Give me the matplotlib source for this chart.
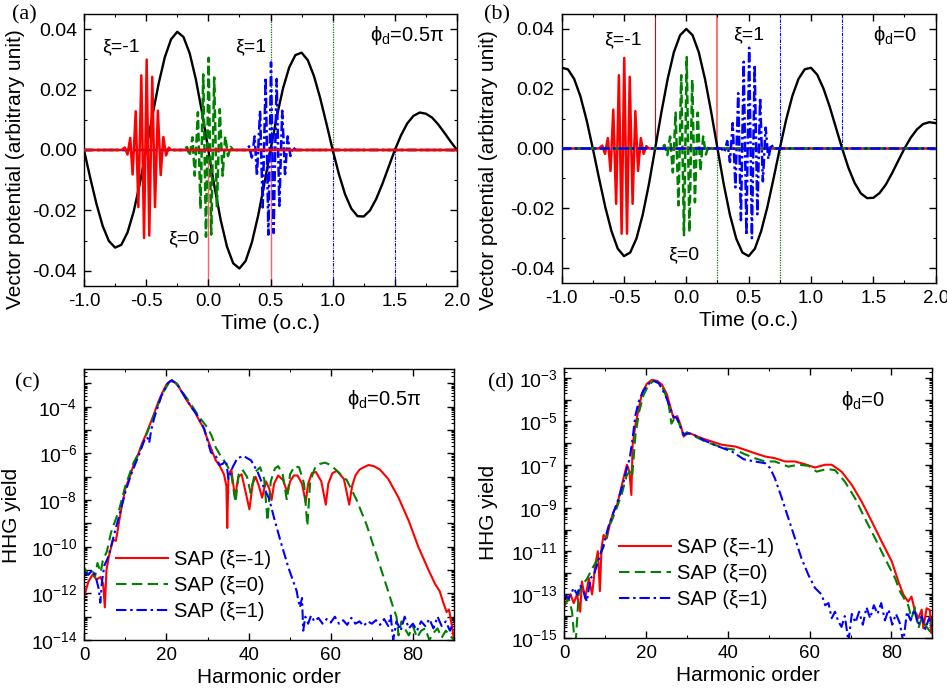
import numpy as np
import matplotlib
matplotlib.use('Agg')
import matplotlib.pyplot as plt
from matplotlib.ticker import (MultipleLocator, FixedLocator, FuncFormatter,
                               LogLocator, NullFormatter)

plt.rcParams['font.family'] = ['Liberation Sans', 'DejaVu Sans']
plt.rcParams['mathtext.fontset'] = 'custom'
plt.rcParams['mathtext.rm'] = 'Liberation Sans'
plt.rcParams['mathtext.it'] = 'Liberation Sans'
plt.rcParams['mathtext.sf'] = 'Liberation Sans'
plt.rcParams['axes.unicode_minus'] = False

# ---------------- data: panel (a)/(b) vector potentials ----------------
t_grid = [-1.00, -0.95, -0.90, -0.85, -0.80, -0.75, -0.70, -0.65, -0.60, -0.55,
          -0.50, -0.45, -0.40, -0.35, -0.30, -0.25, -0.20, -0.15, -0.10, -0.05,
          0.00, 0.05, 0.10, 0.15, 0.20, 0.25, 0.30, 0.35, 0.40, 0.45,
          0.50, 0.55, 0.60, 0.65, 0.70, 0.75, 0.80, 0.85, 0.90, 0.95,
          1.00, 1.05, 1.10, 1.15, 1.20, 1.25, 1.30, 1.35, 1.40, 1.45,
          1.50, 1.55, 1.60, 1.65, 1.70, 1.75, 1.80, 1.85, 1.90, 1.95, 2.00]
a_drive_a = [0.0, -0.0092, -0.0178, -0.0251, -0.0301, -0.0323, -0.0314, -0.0273, -0.0203, -0.0109,
             0.0, 0.0113, 0.0219, 0.0307, 0.0366, 0.0391, 0.0374, 0.0320, 0.0233, 0.0123,
             0.0, -0.0123, -0.0233, -0.0320, -0.0375, -0.0392, -0.0367, -0.0306, -0.0218, -0.0113,
             0.0, 0.0109, 0.0203, 0.0273, 0.0314, 0.0322, 0.0297, 0.0244, 0.0171, 0.0087,
             0.0, -0.0080, -0.0147, -0.0194, -0.0219, -0.0220, -0.0200, -0.0162, -0.0112, -0.0056,
             0.0, 0.0049, 0.0088, 0.0113, 0.0124, 0.0120, 0.0107, 0.0084, 0.0056, 0.0027, 0.0]
a_drive_b = [0.0270, 0.0265, 0.0233, 0.0175, 0.0095, 0.0, -0.0100, -0.0196, -0.0277, -0.0335,
             -0.0360, -0.0348, -0.0301, -0.0222, -0.0119, 0.0, 0.0121, 0.0232, 0.0322, 0.0379,
             0.0400, 0.0379, 0.0322, 0.0232, 0.0121, 0.0, -0.0119, -0.0222, -0.0301, -0.0348,
             -0.0360, -0.0335, -0.0277, -0.0196, -0.0100, 0.0, 0.0095, 0.0175, 0.0233, 0.0265,
             0.0270, 0.0247, 0.0201, 0.0140, 0.0070, 0.0, -0.0064, -0.0115, -0.0150, -0.0166,
             -0.0165, -0.0149, -0.0121, -0.0083, -0.0041, 0.0, 0.0036, 0.0064, 0.0082, 0.0088, 0.0085]

# attosecond pulses (peak positions / values)
t_sap_red_a = [-1.0, -0.70, -0.672, -0.650, -0.628, -0.609, -0.584, -0.563, -0.539, -0.517, -0.496,
               -0.475, -0.451, -0.429, -0.406, -0.383, -0.362, -0.340, -0.318, -0.30, 2.0]
v_sap_red_a = [0, 0, 0.0008, -0.0015, 0.0040, -0.0081, 0.0128, -0.0189, 0.0247, -0.0291, 0.0299,
               -0.0283, 0.0242, -0.0189, 0.0130, -0.0083, 0.0043, -0.0018, 0.0008, 0, 0]
t_sap_grn_a = [-1.0, -0.20, -0.172, -0.150, -0.128, -0.109, -0.084, -0.063, -0.041, -0.019, 0.002,
               0.023, 0.047, 0.069, 0.092, 0.115, 0.136, 0.158, 0.180, 0.20, 2.0]
v_sap_grn_a = [0, 0, 0.0010, -0.0020, 0.0042, -0.0085, 0.0125, -0.0195, 0.0250, -0.0287, 0.0305,
               -0.0280, 0.0240, -0.0190, 0.0135, -0.0085, 0.0045, -0.0020, 0.0010, 0, 0]
t_sap_blu_a = [-1.0, 0.30, 0.328, 0.350, 0.372, 0.391, 0.416, 0.437, 0.461, 0.483, 0.504,
               0.525, 0.549, 0.571, 0.594, 0.617, 0.638, 0.660, 0.682, 0.70, 2.0]
v_sap_blu_a = [0, 0, 0.0012, -0.0025, 0.0045, -0.0085, 0.0130, -0.0190, 0.0240, -0.0280, 0.0290,
               -0.0275, 0.0235, -0.0185, 0.0130, -0.0080, 0.0045, -0.0020, 0.0010, 0, 0]

t_sap_red_b = [-1.0, -0.70, -0.675, -0.652, -0.630, -0.608, -0.586, -0.563, -0.541, -0.519, -0.498,
               -0.476, -0.454, -0.431, -0.409, -0.387, -0.365, -0.343, -0.321, -0.30, 2.0]
v_sap_red_b = [0, 0, 0.0010, -0.0018, 0.0035, -0.0075, 0.0130, -0.0185, 0.0245, -0.0285, 0.0303,
               -0.0285, 0.0240, -0.0185, 0.0125, -0.0075, 0.0035, -0.0018, 0.0008, 0, 0]
t_sap_grn_b = [-1.0, -0.20, -0.175, -0.152, -0.130, -0.108, -0.086, -0.063, -0.041, -0.019, 0.003,
               0.025, 0.047, 0.069, 0.091, 0.113, 0.135, 0.157, 0.179, 0.20, 2.0]
v_sap_grn_b = [0, 0, 0.0012, -0.0022, 0.0040, -0.0080, 0.0120, -0.0190, 0.0245, -0.0290, 0.0306,
               -0.0280, 0.0230, -0.0180, 0.0120, -0.0075, 0.0040, -0.0020, 0.0010, 0, 0]
t_sap_blu_b = [-1.0, 0.28, 0.306, 0.328, 0.350, 0.372, 0.394, 0.416, 0.438, 0.460, 0.482,
               0.504, 0.526, 0.548, 0.570, 0.592, 0.614, 0.636, 0.658, 0.680, 0.70, 2.0]
v_sap_blu_b = [0, 0, -0.0012, 0.0025, -0.0045, 0.0085, -0.0130, 0.0185, -0.0240, 0.0290, -0.0290,
               0.0337, -0.0300, 0.0280, -0.0220, 0.0170, -0.0110, 0.0070, -0.0035, 0.0015, 0, 0]

# recollision-window markers (time positions)
vl_red_a, vl_grn_a, vl_blu_a = [0.0, 0.5], [0.5, 1.0], [1.0, 1.5]
vl_red_b, vl_grn_b, vl_blu_b = [-0.25, 0.25], [0.25, 0.75], [0.75, 1.25]

# ---------------- data: HHG spectra (log10 yield) ----------------
hc_red = [0, 1, 2, 3, 4, 4.6, 5.0, 5.4, 6, 7,
          7.7, 8.5, 9.2, 10, 11, 12, 13, 14, 15, 16,
          17, 18, 19, 20, 21, 22, 23, 24, 25, 26,
          27, 28, 29, 30, 31, 32, 33, 34, 34.6, 34.8,
          35.1, 35.8, 36.7, 37.5, 38.3, 39.2, 40.2, 41.0, 41.7, 42.5,
          43.3, 44.2, 45.0, 45.6, 46.2, 47.2, 48.4, 49.5, 50.1, 51.0,
          51.9, 53.0, 53.9, 54.5, 55.4, 56.4, 57.7, 58.8, 59.4, 60.4,
          61.5, 63.2, 64.5, 65.2, 66.0, 67.0, 68, 69.2, 70.5, 72,
          74, 76.5, 79, 81.3, 83.8, 85.4, 86.5, 87.4, 88.2, 88.8,
          89.5, 90]
lc_red = [-12.1, -11.5, -11.2, -11.4, -11.3, -11.6, -12.6, -11.0, -10.4, -9.7,
          -9.75, -8.9, -8.2, -7.5, -7.05, -6.5, -6.1, -5.6, -5.2, -4.75,
          -4.3, -3.8, -3.4, -3.05, -2.9, -2.95, -3.15, -3.45, -3.75, -4.0,
          -4.25, -4.6, -4.9, -5.4, -5.85, -6.3, -6.55, -6.9, -7.4, -9.2,
          -6.9, -6.7, -7.9, -7.0, -6.9, -7.6, -8.4, -7.3, -7.0, -7.4,
          -7.9, -7.2, -7.5, -8.0, -7.3, -6.95, -7.15, -7.7, -7.2, -6.95,
          -6.95, -7.3, -8.1, -7.3, -6.85, -6.8, -7.2, -8.2, -7.3, -6.85,
          -6.75, -7.1, -8.2, -7.4, -6.95, -6.7, -6.6, -6.5, -6.55, -6.7,
          -7.1, -7.9, -8.9, -10.0, -11.0, -11.6, -11.9, -12.4, -12.8, -12.7,
          -13.4, -14.0]
hc_grn = [0, 1, 2, 2.6, 3.2, 4.0, 4.5, 5.5, 6.5, 7.3,
          8.5, 10, 12, 13.5, 15, 17, 19, 21, 22.5, 24,
          26, 28, 30, 31, 32, 33, 34, 35, 35.8, 36.8,
          37.6, 38.5, 39.6, 40.5, 41.6, 42.8, 43.8, 44.6, 45.4, 46.4,
          47.2, 48.3, 49.3, 50.1, 51.2, 52.3, 53.5, 54.3, 55.0, 56.2,
          57.4, 58.6, 60.0, 61.5, 63.9, 66.3, 68.8, 71.2, 73.6, 75.2,
          76.0, 76.5, 77.2, 78, 79, 80, 81, 82, 83, 84,
          85, 86, 87, 88, 89, 90]
lc_grn = [-10.9, -11.2, -11.0, -11.3, -10.7, -11.1, -10.6, -10.2, -9.4, -9.0,
          -8.4, -7.4, -6.4, -5.9, -5.25, -4.35, -3.45, -2.86, -3.0, -3.4,
          -3.9, -4.45, -4.9, -5.25, -5.75, -6.05, -6.3, -6.6, -6.9, -8.1,
          -6.9, -6.7, -7.0, -7.7, -6.8, -6.6, -7.1, -8.9, -7.2, -6.65,
          -6.55, -6.9, -8.0, -6.9, -6.55, -6.6, -7.3, -9.1, -7.2, -6.6,
          -6.45, -6.4, -6.5, -6.75, -7.15, -8.0, -9.1, -10.4, -11.7, -12.6,
          -13.0, -13.8, -13.2, -13.5, -13.8, -13.4, -13.9, -13.6, -13.5, -14.0,
          -13.7, -13.5, -13.9, -13.6, -13.8, -14.0]
hc_blu = [0, 1, 2, 2.8, 3.5, 3.9, 4.3, 4.9, 5.7, 6.5,
          7.7, 8.9, 10.1, 11.4, 13, 14.6, 15.3, 15.8, 16.3, 17,
          18.7, 20.3, 21.3, 22.7, 24.4, 26, 27.6, 29.2, 30, 30.8,
          32.1, 32.9, 33.7, 34.5, 35.1, 36.1, 37.3, 38.8, 40.6, 42.2,
          43.8, 45, 46.4, 48, 49.7, 50.9, 51.7, 52.1, 52.5, 53.0,
          53.3, 53.8, 54.5, 55.2, 56, 57, 58, 59, 60, 61,
          62, 63, 64, 65, 66, 67, 68, 69, 70, 71,
          72, 73, 74, 74.6, 75.2, 76, 77, 78, 79, 80,
          81, 82, 83, 84, 85, 86, 87, 88, 89, 90]
lc_blu = [-11.1, -11.2, -11.0, -11.3, -11.8, -12.4, -11.5, -10.8, -10.5, -10.0,
          -9.2, -8.4, -7.6, -6.9, -6.2, -5.45, -5.3, -5.55, -5.0, -4.5,
          -3.57, -3.0, -2.86, -3.07, -3.55, -4.0, -4.4, -4.95, -5.45, -5.95,
          -6.15, -6.5, -6.45, -6.3, -7.1, -6.6, -6.2, -6.12, -6.3, -6.8,
          -7.5, -7.95, -8.9, -9.9, -10.9, -11.5, -11.9, -12.3, -12.6, -12.2,
          -13.6, -13.0, -13.3, -12.95, -13.2, -13.05, -13.3, -13.1, -13.25, -13.0,
          -13.3, -13.15, -13.35, -13.05, -13.3, -13.2, -13.4, -13.2, -13.3, -13.15,
          -13.35, -13.1, -13.4, -12.95, -14.0, -13.2, -13.6, -13.0, -13.5, -13.3,
          -13.6, -13.2, -13.4, -13.1, -13.5, -13.0, -13.4, -13.2, -13.6, -13.2]

hd_red = [0, 0.7, 1.5, 2.3, 3.1, 3.9, 4.3, 5.1, 6.0, 6.8,
          7.6, 8.2, 8.7, 9.1, 9.6, 10.4, 11.3, 12.1, 12.9, 13.7,
          14.5, 15.3, 15.9, 16.4, 16.7, 17.4, 18.2, 19.0, 20.2, 21.4,
          22.7, 23.9, 25.1, 25.9, 26.7, 27.6, 28.4, 29.2, 30.0, 30.8,
          32, 33.7, 36.1, 38.6, 41.8, 44.2, 46.6, 49.1, 51.5, 54.0,
          56.4, 58.9, 61.3, 63.8, 65.4, 67.8, 70.3, 72.7, 75.2, 77.6,
          80.1, 81.7, 82.9, 84.1, 84.9, 85.8, 86.6, 87.4, 87.8, 88.6,
          89.4, 89.8, 90]
ld_red = [-13.6, -13.2, -13.0, -13.4, -13.0, -13.8, -12.4, -13.2, -12.25, -13.0,
          -11.6, -11.0, -12.85, -10.85, -10.25, -10.4, -9.6, -9.15, -8.85, -8.25,
          -7.6, -7.0, -7.3, -8.4, -6.1, -5.15, -4.4, -3.7, -3.25, -3.08,
          -3.12, -3.3, -3.75, -4.3, -4.85, -4.75, -5.15, -5.7, -5.55, -5.55,
          -5.65, -5.78, -5.93, -6.08, -6.16, -6.31, -6.47, -6.62, -6.7, -6.85,
          -6.85, -6.98, -7.13, -7.0, -7.0, -7.32, -7.93, -8.7, -9.63, -10.55,
          -11.48, -12.4, -13.0, -13.33, -13.1, -13.8, -14.1, -13.7, -14.56, -13.64,
          -13.72, -14.8, -14.2]
hd_grn = [0, 1.1, 1.9, 2.3, 2.7, 3.5, 4.3, 5.5, 6.8, 8.4,
          9.6, 10.8, 12.5, 14.1, 15.3, 16.0, 16.6, 17.4, 18.3, 19.4,
          20.6, 21.9, 23.1, 24.3, 25.4, 26.2, 27.2, 28.1, 29.0, 30.0,
          32, 34.5, 37, 39.4, 41.8, 44.2, 46.6, 49.1, 51.5, 54.8,
          57.2, 59.7, 61.7, 64.2, 66.2, 68.6, 71.1, 73.5, 76.0, 78.4,
          80.9, 82.1, 83.3, 84.1, 84.9, 85.8, 86.6, 87.4, 88.2, 89.4,
          90]
ld_grn = [-13.5, -13.2, -13.8, -14.7, -15.5, -13.0, -12.56, -12.3, -11.8, -11.3,
          -10.8, -9.95, -9.17, -8.32, -7.47, -7.32, -7.55, -5.62, -4.54, -3.77,
          -3.31, -3.12, -3.23, -3.54, -4.08, -5.1, -4.77, -5.1, -5.62, -5.5,
          -5.7, -5.93, -6.1, -6.24, -6.31, -6.52, -6.7, -6.85, -6.85, -7.09,
          -7.0, -7.05, -7.32, -7.2, -7.25, -7.78, -8.55, -9.48, -10.4, -11.33,
          -12.25, -12.87, -13.25, -13.5, -14.1, -13.6, -14.56, -14.1, -14.4, -14.7,
          -14.2]
hd_blu = [0, 1.1, 2.3, 3.1, 3.9, 4.7, 5.5, 6.4, 7.2, 8.4,
          9.6, 10.8, 12.1, 13.3, 14.5, 15.3, 16.0, 16.6, 17.4, 18.2,
          19.4, 20.8, 21.9, 23.1, 24.7, 25.9, 26.7, 27.6, 28.4, 29.2,
          30.4, 32, 34.5, 37.7, 41, 43.9, 46.6, 49.1, 50.3, 51.5,
          53.2, 54.8, 56.4, 58.0, 59.7, 61.3, 62.9, 63.8, 64.6, 65.4,
          66.2, 67.0, 67.8, 68.6, 69.5, 70.3, 71.2, 72.1, 73.0, 73.9,
          74.8, 75.7, 76.6, 77.5, 78.4, 79.3, 80.2, 81.1, 82.0, 82.9,
          83.8, 84.7, 85.6, 86.5, 87.4, 88.3, 89.2, 90]
ld_blu = [-13.0, -13.2, -12.7, -13.0, -12.6, -12.85, -13.33, -12.25, -12.1, -11.4,
          -10.7, -9.85, -9.17, -8.55, -7.78, -7.16, -6.7, -5.93, -4.7, -4.08,
          -3.54, -3.23, -3.12, -3.23, -3.77, -4.39, -4.77, -4.85, -5.24, -5.62,
          -5.55, -5.65, -5.9, -6.16, -6.39, -6.75, -6.85, -6.93, -7.15, -7.63,
          -8.55, -9.48, -10.4, -11.33, -12.1, -12.7, -13.0, -13.5, -13.4, -14.1,
          -13.8, -14.25, -14.5, -14.0, -15.2, -13.9, -14.3, -13.8, -14.4, -13.6,
          -14.1, -13.5, -13.9, -13.4, -14.2, -13.7, -14.4, -13.9, -14.3, -15.2,
          -13.8, -14.2, -13.7, -14.4, -14.0, -14.6, -14.1, -14.5]

legend_labels = ['SAP (ξ=-1)', 'SAP (ξ=0)', 'SAP (ξ=1)']

# ---------------- styles ----------------
RED, GRN, BLU, BLK = '#ff0000', '#008000', '#0000ff', '#000000'
DASH = (0, (3.5, 1.6))
DASHDOT = (0, (4.0, 1.3, 1.0, 1.3))
DASH_H = (0, (5.0, 2.6))
DASHDOT_H = (0, (5.0, 1.8, 1.2, 1.8))
TICK_FS = 14
LABEL_FS = 15

fig = plt.figure(figsize=(9.47, 6.92), dpi=100)
ax_a = fig.add_axes([0.0887, 0.5867, 0.3939, 0.3931])
ax_b = fig.add_axes([0.5931, 0.5910, 0.3949, 0.3888])
ax_c = fig.add_axes([0.0890, 0.0751, 0.3904, 0.3912])
ax_d = fig.add_axes([0.5959, 0.0785, 0.3886, 0.3893])


def style(ax):
    ax.tick_params(which='both', direction='in', top=True, right=True,
                   labelsize=TICK_FS)
    ax.tick_params(axis='x', labelsize=13.5)
    ax.tick_params(which='major', length=5, width=1.0, pad=5)
    ax.tick_params(which='minor', length=2.5, width=0.8)
    for s in ax.spines.values():
        s.set_linewidth(1.0)


def fmt2(v, pos):
    s = f"{v:.2f}"
    return '0.00' if s == '-0.00' else s


def fmt1(v, pos):
    s = f"{v:.1f}"
    return '0.0' if s == '-0.0' else s


def top_panel(ax, ylab_xy):
    style(ax)
    ax.set_xlim(-1, 2)
    ax.set_ylim(-0.045, 0.045)
    ax.xaxis.set_major_locator(MultipleLocator(0.5))
    ax.xaxis.set_minor_locator(MultipleLocator(0.25))
    ax.yaxis.set_major_locator(MultipleLocator(0.02))
    ax.yaxis.set_minor_locator(MultipleLocator(0.01))
    ax.xaxis.set_major_formatter(FuncFormatter(fmt1))
    ax.yaxis.set_major_formatter(FuncFormatter(fmt2))
    ax.set_xlabel('Time (o.c.)', fontsize=LABEL_FS, labelpad=3)
    ax.set_ylabel('Vector potential (arbitrary unit)', fontsize=15)
    ax.yaxis.set_label_coords(*ylab_xy)


# ---- panel (a)
top_panel(ax_a, (-0.158, 0.43))
for x in vl_red_a:
    ax_a.axvline(x, ymin=0.0, ymax=0.5, color='#ff6060', lw=1.0, zorder=1)
for x in vl_grn_a:
    ax_a.axvline(x, ymin=0.5, ymax=1.0, color=GRN, lw=0.9, ls=(0, (1, 1)), zorder=1)
for x in vl_blu_a:
    ax_a.axvline(x, ymin=0.0, ymax=0.5, color=BLU, lw=0.8, ls=(0, (3, 1, 1, 1)), zorder=1)
ax_a.plot(t_grid, a_drive_a, color=BLK, lw=1.7, zorder=2)
ax_a.plot(t_sap_grn_a, v_sap_grn_a, color=GRN, lw=1.8, ls=DASH, zorder=3)
ax_a.plot(t_sap_blu_a, v_sap_blu_a, color=BLU, lw=1.8, ls=DASHDOT, zorder=4)
ax_a.plot(t_sap_red_a, v_sap_red_a, color=RED, lw=1.8, zorder=5)
ax_a.text(-0.70, 0.0343, 'ξ=-1', fontsize=14, ha='center', va='center')
ax_a.text(-0.20, -0.0293, 'ξ=0', fontsize=14, ha='center', va='center')
ax_a.text(0.34, 0.0343, 'ξ=1', fontsize=14, ha='center', va='center')
ax_a.text(1.60, 0.0380, r'$\phi_{\mathrm{d}}$=0.5π', fontsize=14.5, ha='center', va='center')

# ---- panel (b)
top_panel(ax_b, (-0.169, 0.42))
ax_b.axvline(vl_red_b[0], ymin=0.5, ymax=1.0, color='#e00000', lw=0.8, zorder=1)
ax_b.axvline(vl_red_b[1], ymin=0.5, ymax=1.0, color='#ff7070', lw=1.4, zorder=1)
for x in vl_grn_b:
    ax_b.axvline(x, ymin=0.0, ymax=0.5, color=GRN, lw=0.9, ls=(0, (1, 1)), zorder=1)
for x in vl_blu_b:
    ax_b.axvline(x, ymin=0.5, ymax=1.0, color=BLU, lw=0.8, ls=(0, (3, 1, 1, 1)), zorder=1)
ax_b.plot(t_grid, a_drive_b, color=BLK, lw=1.7, zorder=2)
ax_b.plot(t_sap_red_b, v_sap_red_b, color=RED, lw=1.8, zorder=3)
ax_b.plot(t_sap_grn_b, v_sap_grn_b, color=GRN, lw=1.8, ls=DASH, zorder=4)
ax_b.plot(t_sap_blu_b, v_sap_blu_b, color=BLU, lw=1.8, ls=DASHDOT, zorder=5)
ax_b.text(-0.51, 0.0364, 'ξ=-1', fontsize=14, ha='center', va='center')
ax_b.text(-0.02, -0.0356, 'ξ=0', fontsize=14, ha='center', va='center')
ax_b.text(0.50, 0.0381, 'ξ=1', fontsize=14, ha='center', va='center')
ax_b.text(1.67, 0.0378, r'$\phi_{\mathrm{d}}$=0', fontsize=14.5, ha='center', va='center')


# ---- bottom panels
def log_fmt(labeled):
    def f(v, pos):
        e = int(round(np.log10(v)))
        return r'$10^{%d}$' % e if e in labeled else ''
    return FuncFormatter(f)


def bottom_panel(ax, ymin, ymax, labeled, ylab_xy):
    style(ax)
    ax.set_yscale('log')
    ax.set_xlim(0, 90)
    ax.set_ylim(ymin, ymax)
    ax.xaxis.set_major_locator(MultipleLocator(20))
    ax.xaxis.set_minor_locator(MultipleLocator(10))
    ax.yaxis.set_major_locator(FixedLocator([10.0 ** k for k in range(-16, 0)]))
    ax.yaxis.set_major_formatter(log_fmt(labeled))
    ax.yaxis.set_minor_locator(LogLocator(base=10.0, subs=np.arange(2, 10), numticks=60))
    ax.yaxis.set_minor_formatter(NullFormatter())
    ax.set_xlabel('Harmonic order', fontsize=LABEL_FS, labelpad=3)
    ax.set_ylabel('HHG yield', fontsize=LABEL_FS)
    ax.yaxis.set_label_coords(*ylab_xy)


def legend(ax, handles, anchor):
    ax.legend(handles, legend_labels, frameon=False, fontsize=14.5,
              loc='center left', bbox_to_anchor=anchor, borderaxespad=0,
              borderpad=0, handlelength=2.6, handletextpad=0.3, labelspacing=0.35)


bottom_panel(ax_c, 1e-14, 10 ** -2.4, {-4, -6, -8, -10, -12, -14}, (-0.17, 0.462))
lr, = ax_c.plot(hc_red, 10.0 ** np.array(lc_red), color=RED, lw=1.5)
lg, = ax_c.plot(hc_grn, 10.0 ** np.array(lc_grn), color=GRN, lw=1.5, ls=DASH_H)
lb, = ax_c.plot(hc_blu, 10.0 ** np.array(lc_blu), color=BLU, lw=1.5, ls=DASHDOT_H)
legend(ax_c, [lr, lg, lb], (0.085, 0.20))
ax_c.text(0.81, 0.89, r'$\phi_{\mathrm{d}}$=0.5π', transform=ax_c.transAxes,
          fontsize=14.5, ha='center', va='center')

bottom_panel(ax_d, 1e-15, 10 ** -2.54, {-3, -5, -7, -9, -11, -13, -15}, (-0.1815, 0.465))
lr, = ax_d.plot(hd_red, 10.0 ** np.array(ld_red), color=RED, lw=1.5)
lg, = ax_d.plot(hd_grn, 10.0 ** np.array(ld_grn), color=GRN, lw=1.5, ls=DASH_H)
lb, = ax_d.plot(hd_blu, 10.0 ** np.array(ld_blu), color=BLU, lw=1.5, ls=DASHDOT_H)
legend(ax_d, [lr, lg, lb], (0.148, 0.239))
ax_d.text(0.81, 0.88, r'$\phi_{\mathrm{d}}$=0', transform=ax_d.transAxes,
          fontsize=14.5, ha='center', va='center')

# panel letters
for (x, y, s) in [(0.0253, 0.979, '(a)'), (0.525, 0.979, '(b)'),
                  (0.0285, 0.447, '(c)'), (0.529, 0.447, '(d)')]:
    fig.text(x, y, s, family='Liberation Serif', fontsize=16, ha='center', va='center')

fig.savefig('out.png', dpi=100)
